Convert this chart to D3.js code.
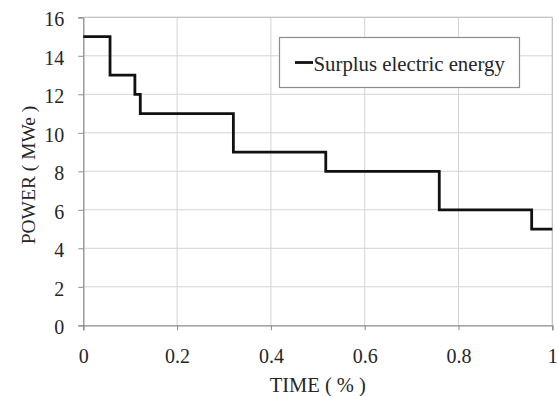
<!DOCTYPE html>
<html><head><meta charset="utf-8">
<script src="https://cdn.jsdelivr.net/npm/d3@7"></script>
<style>body{margin:0;background:#fff}svg{display:block}</style>
</head><body>
<svg id="c" width="558" height="396"></svg>
<script>
// step data: each step holds power value from its start time
const stepTimes = [0, 0.057, 0.110, 0.1215, 0.32, 0.517, 0.759, 0.956, 1.0];
const stepPower = [15, 13, 12, 11, 9, 8, 6, 5, 5];
const xTicks = [0, 0.2, 0.4, 0.6, 0.8, 1];
const yTicks = [0, 2, 4, 6, 8, 10, 12, 14, 16];
const seriesName = "Surplus electric energy";

const svg = d3.select("#c");
const x = d3.scaleLinear().domain([0, 1]).range([83.3, 552.3]);
const y = d3.scaleLinear().domain([0, 16]).range([325.3, 17.3]);
const font = "Liberation Serif";
const gridColor = "#d4d4d4", axisColor = "#8c8c8c", textColor = "#262626";

// grid
svg.append("g").selectAll("line").data(yTicks.slice(1)).join("line")
  .attr("x1", x(0)).attr("x2", x(1)).attr("y1", d => y(d)).attr("y2", d => y(d))
  .attr("stroke", gridColor).attr("stroke-width", 1);
svg.append("g").selectAll("line").data(xTicks.slice(1)).join("line")
  .attr("y1", y(0)).attr("y2", y(16)).attr("x1", d => x(d)).attr("x2", d => x(d))
  .attr("stroke", gridColor).attr("stroke-width", 1);

// axes
const xAxis = svg.append("g").attr("transform", `translate(0,${y(0)})`)
  .call(d3.axisBottom(x).tickValues(xTicks).tickFormat(d3.format("~g")).tickSize(5).tickPadding(19));
const yAxis = svg.append("g").attr("transform", `translate(${x(0)},0)`)
  .call(d3.axisLeft(y).tickValues(yTicks).tickSize(5).tickPadding(14));
[xAxis, yAxis].forEach(g => {
  g.attr("font-family", font).attr("font-size", 20);
  g.select(".domain").attr("stroke", axisColor).attr("stroke-width", 1.3);
  g.selectAll(".tick line").attr("stroke", axisColor);
  g.selectAll("text").attr("fill", textColor);
});
xAxis.selectAll("text").attr("dy", "0.71em");
yAxis.selectAll("text").attr("dy", "0.42em");
// top & right border
svg.append("line").attr("x1", x(0)).attr("x2", x(1)).attr("y1", y(16)).attr("y2", y(16)).attr("stroke", "#bdbdbd");
svg.append("line").attr("x1", x(1)).attr("x2", x(1)).attr("y1", y(16)).attr("y2", y(0)).attr("stroke", "#bdbdbd");

// step line
const pts = stepTimes.map((t, i) => [t, stepPower[i]]);
svg.append("path").datum(pts)
  .attr("d", d3.line().x(d => x(d[0])).y(d => y(d[1])).curve(d3.curveStepAfter))
  .attr("fill", "none").attr("stroke", "#111").attr("stroke-width", 2.8);

// legend
const lg = svg.append("g");
lg.append("rect").attr("x", 279.5).attr("y", 37.5).attr("width", 240).attr("height", 50)
  .attr("fill", "#fff").attr("stroke", "#8c8c8c").attr("stroke-width", 1.2);
lg.append("line").attr("x1", 295).attr("x2", 313).attr("y1", 62.5).attr("y2", 62.5)
  .attr("stroke", "#111").attr("stroke-width", 2.8);
lg.append("text").attr("x", 313.5).attr("y", 70.5).text(seriesName)
  .attr("font-family", font).attr("font-size", 20.8).attr("fill", textColor);

// titles
svg.append("text").attr("x", x(0.5)).attr("y", 392).attr("text-anchor", "middle")
  .attr("font-family", font).attr("font-size", 20.5).attr("fill", textColor).text("TIME ( % )");
svg.append("text").attr("transform", "translate(35,175) rotate(-90)").attr("text-anchor", "middle")
  .attr("font-family", font).attr("font-size", 19.5).attr("fill", textColor).text("POWER ( MWe )");
</script>
</body></html>
